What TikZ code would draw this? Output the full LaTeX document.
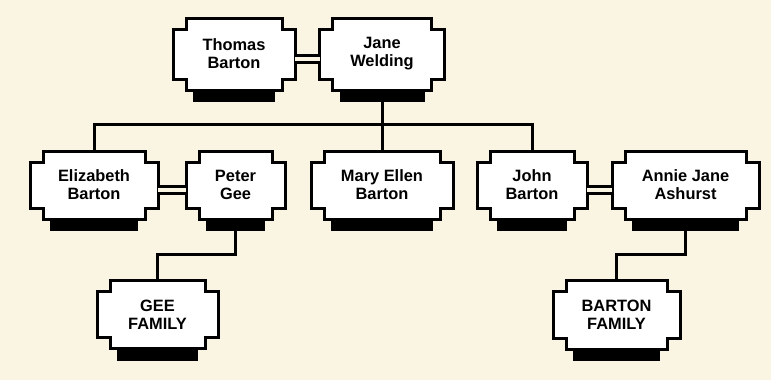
\documentclass[tikz,border=0pt]{standalone}
\usepackage{fontspec}
\setmainfont{Liberation Sans}
\usetikzlibrary{calc,backgrounds}
\definecolor{paper}{RGB}{250,245,227}
\tikzset{
  card/.style={rectangle, inner sep=0pt, outer sep=0pt, align=center,
    font=\fontsize{16.4}{18}\selectfont\bfseries},
  cardline/.style={draw=black, line width=3pt, fill=white, line join=miter},
  cardshadow/.style={fill=black},
  link/.style={draw=black, line width=3pt, line join=miter},
  wed/.style={draw=black, double=paper, line width=3pt, double distance=4.5pt},
}
\newcommand\drawcard[1]{%
  \fill[cardshadow] ($(#1.south west)+(20,0)$) rectangle ($(#1.south east)+(-20,12)$);
  \path[cardline] ($(#1.north west)+(13,0)$) -- ($(#1.north east)+(-13,0)$) -- ++(0,11)
    -- ($(#1.north east)+(0,11)$) -- ($(#1.south east)+(0,-11)$) -- ++(-13,0)
    -- ($(#1.south east)+(-13,0)$) -- ($(#1.south west)+(13,0)$) -- ++(0,-11)
    -- ($(#1.south west)+(0,-11)$) -- ($(#1.north west)+(0,11)$) -- ++(13,0) -- cycle;
}
\begin{document}
\begin{tikzpicture}[x=1pt,y=-1pt]
\begin{pgfonlayer}{background}
  \fill[paper] (0,0) rectangle (771,380);
\end{pgfonlayer}
\path[use as bounding box] (0,0) rectangle (771,380);

% generation 1
\node[card, minimum width=122pt, minimum height=72pt] (thomas) at (234,54) {Thomas\\Barton};
\node[card, minimum width=125pt, minimum height=72pt] (jane) at (382,54) {Jane\\Welding};
% generation 2
\node[card, minimum width=128pt, minimum height=68pt] (eliz) at (94,185) {Elizabeth\\Barton};
\node[card, minimum width=99pt, minimum height=68pt] (peter) at (235.5,185) {Peter\\Gee};
\node[card, minimum width=142pt, minimum height=68pt] (mary) at (382,185) {Mary Ellen\\Barton};
\node[card, minimum width=110pt, minimum height=68pt] (john) at (532,185) {John\\Barton};
\node[card, minimum width=147pt, minimum height=68pt] (annie) at (685.5,185) {Annie Jane\\Ashurst};
% generation 3
\node[card, minimum width=121pt, minimum height=68pt] (gee) at (157.5,314.5) {GEE\\FAMILY};
\node[card, minimum width=127pt, minimum height=69pt] (barton) at (616.5,314.5) {BARTON\\FAMILY};

\begin{pgfonlayer}{background}
  \drawcard{thomas}
  \drawcard{jane}
  \drawcard{eliz}
  \drawcard{peter}
  \drawcard{mary}
  \drawcard{john}
  \drawcard{annie}
  \drawcard{gee}
  \drawcard{barton}
\end{pgfonlayer}

% junction points
\coordinate (bar) at (382,124);
\coordinate (gj) at (196,254);
\coordinate (bj) at (650,254);

% marriages
\draw[wed] ([yshift=-5pt]thomas.east) -- ([yshift=-5pt]jane.west);
\draw[wed] ([yshift=-5pt]eliz.east) -- ([yshift=-5pt]peter.west);
\draw[wed] ([yshift=-5pt]john.east) -- ([yshift=-5pt]annie.west);

% descent
\draw[link] (jane.south) -- (mary.north);
\draw[link] (eliz.north) |- (bar) -| (john.north);
\draw[link] (peter.south) |- (gj) -| (gee.north);
\draw[link] (annie.south) |- (bj) -| (barton.north);
\end{tikzpicture}
\end{document}
